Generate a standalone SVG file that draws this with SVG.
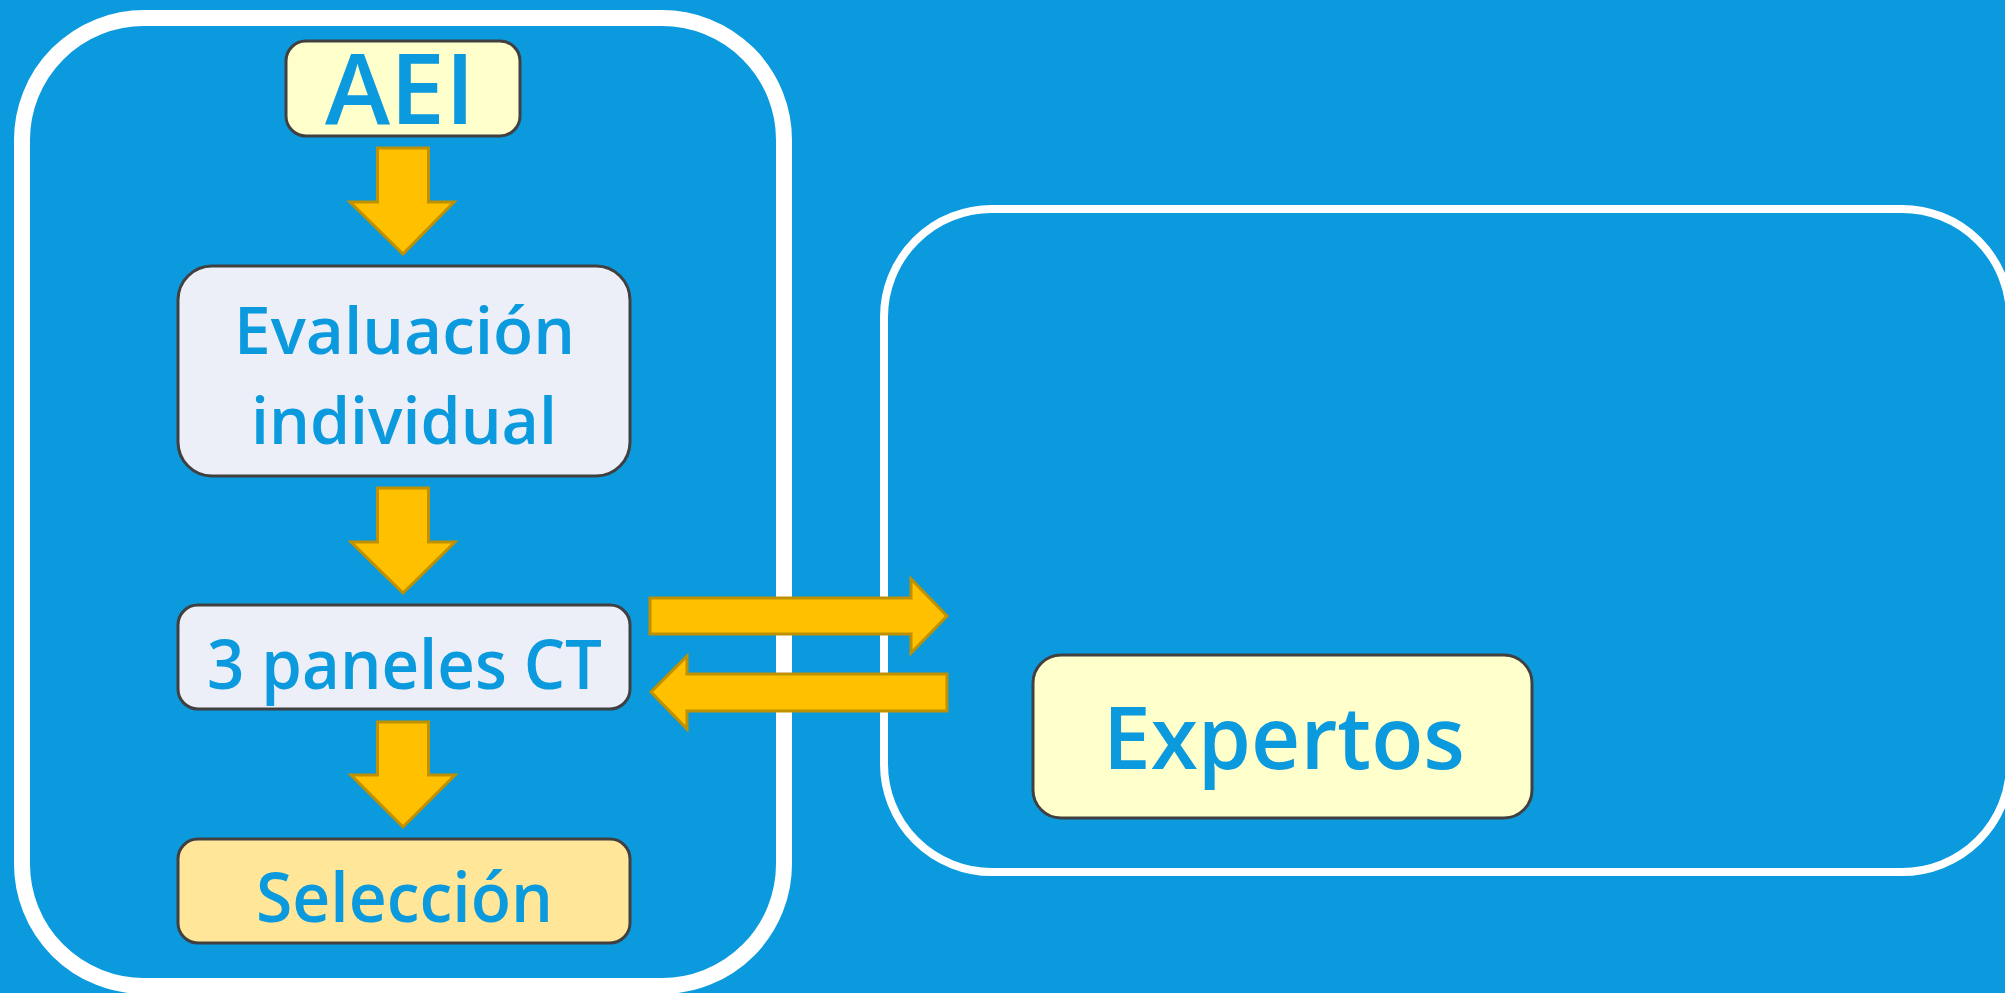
<svg xmlns="http://www.w3.org/2000/svg" width="2005" height="993" viewBox="0 0 2005 993">
<style>
.node{stroke:#404040;stroke-width:3}
.arrow{fill:#FFC000;stroke:#BF9000;stroke-width:3;stroke-linejoin:miter}
.lbl{font-family:"Open Sans","Liberation Sans",sans-serif;font-weight:600;fill:#0B9ADD;text-anchor:middle}
.panel{fill:none;stroke:#FFFFFF}
</style>
<rect x="0" y="0" width="2005" height="993" fill="#0B9ADD"/>
<g id="panel-left"><rect class="panel" x="22" y="18" width="762" height="968" rx="122" ry="122" stroke-width="16"/></g>
<g id="panel-right"><rect class="panel" x="884" y="209" width="1126" height="663" rx="108" ry="108" stroke-width="8"/></g>
<g id="connectors">
<polygon class="arrow" points="377.5,148 428.5,148 428.5,202 454,202 403,254 350,202 377.5,202"/>
<polygon class="arrow" points="377.5,488 428.5,488 428.5,542 455,542 403,593 351,542 377.5,542"/>
<polygon class="arrow" points="377.5,722 428.5,722 428.5,775 455,775 403,827 351,775 377.5,775"/>
<polygon class="arrow" points="650,598 911,598 911,579 947,616 911,653 911,634 650,634"/>
<polygon class="arrow" points="947,674 687,674 687,656 651,692 687,729 687,711 947,711"/>
</g>
<g id="node-aei">
<rect class="node" x="286" y="41" width="234" height="95" rx="20" fill="#FFFFCC"/>
<text class="lbl" x="400" y="124" font-size="97" textLength="150" lengthAdjust="spacingAndGlyphs">AEI</text>
</g>
<g id="node-evaluacion">
<rect class="node" x="178" y="266" width="452" height="210" rx="34" fill="#ECEFF7"/>
<text class="lbl" x="404.5" y="354" font-size="66" textLength="341" lengthAdjust="spacingAndGlyphs">Evaluación</text>
<text class="lbl" x="404" y="444" font-size="66" textLength="306" lengthAdjust="spacingAndGlyphs">individual</text>
</g>
<g id="node-paneles">
<rect class="node" x="178" y="605" width="452" height="104" rx="20" fill="#ECEFF7"/>
<text class="lbl" x="404.5" y="689" font-size="69" textLength="395" lengthAdjust="spacingAndGlyphs">3 paneles CT</text>
</g>
<g id="node-seleccion">
<rect class="node" x="178" y="839" width="452" height="104" rx="20" fill="#FFE699"/>
<text class="lbl" x="404.5" y="922" font-size="69" textLength="297" lengthAdjust="spacingAndGlyphs">Selección</text>
</g>
<g id="node-expertos">
<rect class="node" x="1033" y="655" width="499" height="163" rx="28" fill="#FFFFCC"/>
<text class="lbl" x="1284" y="769" font-size="87" textLength="362" lengthAdjust="spacingAndGlyphs">Expertos</text>
</g>
</svg>
